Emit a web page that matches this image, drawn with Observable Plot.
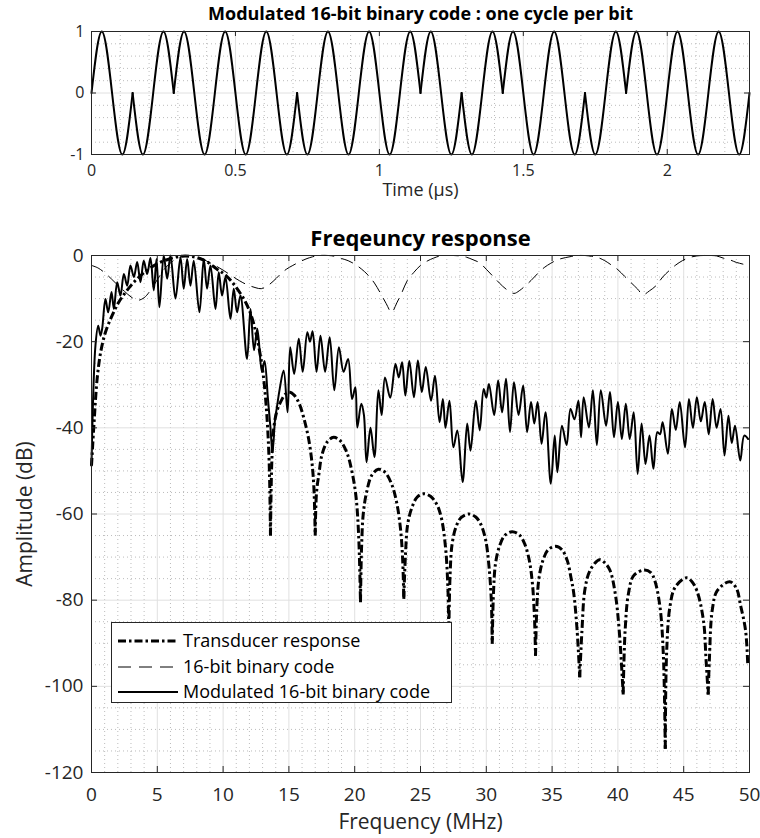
<!DOCTYPE html>
<html><head><meta charset="utf-8">
<script src="https://cdn.jsdelivr.net/npm/d3@7"></script>
<script src="https://cdn.jsdelivr.net/npm/@observablehq/plot@0.6"></script>
<style>
body{margin:0;background:#fff;font-family:"Open Sans",sans-serif;}
#wrap{position:relative;width:760px;height:838px;overflow:hidden;background:#fff}
#wrap > svg{position:absolute;left:0}
.legend{position:absolute;left:111px;top:622px;width:339px;height:79px;border:1px solid #262626;background:#fff;font-family:"Open Sans",sans-serif;font-size:18px;color:#000}
.legend .row{position:absolute;left:0;height:20px}
.legend .row svg{position:absolute;left:5px;top:5px}
.legend .row span{position:absolute;left:71px;top:-4px;white-space:nowrap;line-height:26px}
</style></head>
<body><div id="wrap"></div>
<script>
// ---------- Top chart data ----------
const topTitle = "Modulated 16-bit binary code : one cycle per bit";
const bitPhase = [1,-1,1,1,1,-1,-1,-1,1,-1,1,1,-1,1,1,1];   // (+sin / -sin)
const carrierMHz = 7;                                      // one cycle per bit
const cycleShape = [0, 1, 0, -1];                          // quarter-cycle samples of one cycle
const timeDomain = [0, 16 / 7];
const timeTicks = [0, 0.5, 1, 1.5, 2];
const ampTicks = [-1, 0, 1];

// ---------- Bottom chart data ----------
const bottomTitle = "Freqeuncy response";
const freqTicks = [0,5,10,15,20,25,30,35,40,45,50];
const dbTicks = [-120,-100,-80,-60,-40,-20,0];
const legendLabels = ["Transducer response","16-bit binary code","Modulated 16-bit binary code"];

const transducerLobes = [
 [[0,-48.8],[0.18,-39.5],[0.43,-28.6],[0.7,-22.4],[1.06,-17.8],[1.57,-13.9],[2.08,-10.8],[2.7,-8.1],[3.47,-5.4],[4.2,-3.5],[5.0,-1.9],[5.9,-0.8],[6.9,-0.15],[7.9,-0.4],[8.8,-1.5],[9.5,-3.1],[10.2,-4.6],[10.9,-7],[11.7,-10.8],[12.2,-14.5],[12.6,-19.5],[13.0,-26.5],[13.3,-36],[13.5,-48],[13.6,-65]],
 [[13.6,-65],[13.7,-48],[13.85,-40],[14.1,-36],[14.4,-33.8],[14.7,-32.3],[15.0,-31.7],[15.4,-32.4],[15.8,-34.5],[16.2,-38.5],[16.5,-42.6],[16.75,-48],[16.9,-54],[17.0,-65]],
 [[17.0,-65],[17.1,-55],[17.3,-50.3],[17.5,-46.4],[17.9,-43.3],[18.4,-42.2],[18.9,-43],[19.4,-45.7],[19.8,-50.3],[20.1,-56],[20.3,-65],[20.44,-80.5]],
 [[20.44,-80.5],[20.52,-68],[20.65,-60],[20.9,-55],[21.3,-51],[21.8,-49.6],[22.3,-50.3],[22.8,-53],[23.2,-57.5],[23.5,-64],[23.65,-71],[23.73,-79.7]],
 [[23.73,-79.7],[23.86,-69.3],[24.03,-62.3],[24.36,-58.4],[24.74,-56.1],[25.25,-55.3],[25.76,-55.9],[26.21,-57.6],[26.57,-60.7],[26.9,-67.7],[27.08,-77],[27.15,-88]],
 [[27.15,-88],[27.25,-74],[27.4,-67],[27.7,-63],[28.1,-60.8],[28.67,-60],[29.2,-60.7],[29.6,-62.5],[29.95,-66],[30.2,-72],[30.38,-80],[30.45,-90.1]],
 [[30.45,-90.1],[30.55,-78],[30.7,-71.5],[31.0,-67.5],[31.4,-65],[31.96,-64.1],[32.5,-64.8],[32.9,-66.8],[33.25,-70.5],[33.5,-76],[33.66,-84],[33.74,-92.9]],
 [[33.74,-92.9],[33.85,-81],[34.0,-75],[34.3,-70.8],[34.7,-68.3],[35.26,-67.5],[35.75,-68.3],[36.15,-70.8],[36.45,-75],[36.65,-78.5],[36.9,-87],[37.1,-97.9]],
 [[37.1,-97.9],[37.27,-87],[37.5,-77.4],[37.9,-73],[38.6,-70.6],[39.0,-71.3],[39.4,-73.1],[39.8,-78.5],[40.1,-87],[40.4,-101.9]],
 [[40.4,-101.9],[40.55,-87],[40.8,-78.5],[41.2,-74.3],[42.0,-73],[42.5,-73.6],[42.8,-75.4],[43.2,-81.6],[43.45,-92.4],[43.6,-114.5]],
 [[43.6,-114.5],[43.7,-92.4],[43.95,-81.6],[44.35,-77],[45.2,-74.8],[45.6,-75.6],[46.0,-77.8],[46.5,-84.7],[46.7,-93.9],[46.86,-101.9]],
 [[46.86,-101.9],[46.95,-93.9],[47.17,-82.3],[47.55,-77.8],[48.5,-75.7],[49.0,-77.2],[49.32,-81.2],[49.7,-87],[49.87,-95.2]]
];

const codeSpectrum = [[0,-2.3],[0.5,-2.9],[1,-4],[1.5,-5.4],[2,-6.9],[2.5,-8.3],[3,-9.6],[3.5,-10.4],[4,-9.8],[4.5,-8],[5,-5.6],[5.5,-3.3],[6,-1.7],[6.5,-0.7],[7,-0.1],[7.5,0],[8,-0.3],[8.5,-0.9],[9,-1.7],[9.5,-2.5],[10,-3.4],[10.5,-4.4],[11,-5.4],[11.5,-6.3],[12,-7],[12.5,-7.5],[12.9,-7.7],[13.3,-7.2],[13.8,-6],[14.3,-4.5],[14.8,-3.2],[15.3,-2.3],[15.8,-1.5],[16.3,-0.8],[16.8,-0.3],[17.3,0],[18,0],[18.5,-0.2],[19,-0.7],[19.5,-1.2],[20,-2],[20.5,-3.1],[21,-4.5],[21.5,-6.4],[22,-9],[22.4,-11.2],[22.8,-13.2],[23.2,-11],[23.6,-8.5],[24,-5.8],[24.5,-3.9],[25,-2.3],[25.5,-1.3],[26,-0.6],[26.5,-0.1],[27,0],[27.5,0],[28,-0.1],[28.5,-0.4],[29,-1],[29.5,-1.7],[30,-3.2],[30.5,-4.8],[31,-6.4],[31.5,-7.8],[32.1,-8.8],[32.5,-8.2],[32.9,-7.2],[33.4,-5.8],[33.9,-4.2],[34.4,-2.8],[34.9,-1.8],[35.4,-1],[36,-0.5],[36.5,-0.2],[37,0],[37.5,0],[38,-0.2],[38.5,-0.5],[39,-1.2],[39.5,-2.2],[40,-3.3],[40.5,-4.8],[41,-6.3],[41.5,-7.8],[41.9,-9.1],[42.4,-8.2],[42.9,-7],[43.4,-5],[43.9,-3.5],[44.4,-2.2],[44.9,-1.2],[45.4,-0.5],[46,-0.1],[46.5,0],[47,0],[47.5,-0.1],[48,-0.6],[48.5,-1],[49,-1.6],[49.5,-2],[50,-2.5]];

const modulatedSpectrum = [[0,-48.8],[0.3,-20.9],[0.51,-16.3],[0.68,-18.6],[0.81,-17],[1.06,-10.1],[1.27,-13.2],[1.52,-8.5],[1.7,-12.4],[1.95,-6.2],[2.2,-9.3],[2.46,-4.3],[2.71,-7],[2.96,-2.3],[3.22,-5],[3.47,-1.5],[3.72,-6.2],[3.97,-1.2],[4.23,-4.3],[4.48,-0.6],[4.73,-8.1],[4.94,-0.8],[5.16,-12],[5.49,0],[5.75,-5.4],[6.0,0],[6.38,-10],[6.76,-0.4],[7.01,-7.7],[7.27,-0.8],[7.52,-7],[7.77,-1.2],[8.2,-13.2],[8.53,-0.8],[8.78,-7.7],[9.04,-2.3],[9.42,-12.4],[9.67,-3.9],[9.92,-9.3],[10.18,-5],[10.56,-14.7],[10.81,-7.7],[11.06,-13.2],[11.32,-9.3],[11.82,-24],[12.08,-12.4],
[12.35,-22],[12.6,-17],[12.95,-27],[13.15,-24.5],[13.4,-33],[13.6,-40],[13.75,-45.7],[13.95,-38],[14.1,-35],[14.3,-31],[14.6,-26.7],[14.9,-36.4],[15.1,-21.3],[15.4,-27.5],[15.75,-19.3],[16.05,-27],[16.4,-17.8],[16.6,-20],[16.8,-17.6],[17.1,-27],[17.4,-18.6],[17.75,-27],[18.1,-19],[18.45,-31.3],[18.8,-21.3],[19.15,-27],[19.5,-24],[19.8,-33.3],[20.05,-30.6],[20.2,-39.9],[20.5,-34.4],[20.7,-37],[20.9,-48],[21.2,-40],[21.5,-46.8],[21.8,-31.3],[22.05,-37],[22.3,-28.3],[22.7,-33],[23.1,-25.2],[23.35,-28.3],[23.6,-24.8],[23.85,-32.5],[24.15,-24.5],[24.5,-32.9],[24.8,-24.4],
[25.1,-31.7],[25.4,-25.9],[25.8,-33.7],[26.1,-27.9],[26.45,-38.7],[26.7,-33.3],[26.9,-40],[27.2,-33.7],[27.5,-44.5],[27.8,-40.6],[28.2,-52.6],[28.55,-39],[28.8,-45.3],[29.2,-33.7],[29.5,-40.6],[29.8,-31],[30.0,-33],[30.2,-29.8],[30.6,-37],[30.9,-29],[31.2,-36.4],[31.5,-28.6],[31.8,-41],[32.1,-29.4],[32.45,-37],[32.8,-30.2],[33.1,-41],[33.4,-34],[33.65,-39],[33.9,-34],[34.2,-43.7],[34.5,-36.4],[34.9,-53],[35.2,-41.8],[35.4,-50.3],[35.75,-39.5],[36.1,-44],[36.4,-35.6],[36.7,-38],[37.0,-33.7],[37.2,-42.2],[37.4,-32.9],
[37.8,-39.9],[38.1,-31.3],[38.4,-44],[38.7,-31.3],[39.1,-39.5],[39.4,-31.7],[39.7,-42.2],[40.0,-34],[40.3,-42.6],[40.6,-34.4],[40.9,-42.6],[41.2,-36.4],[41.5,-50.7],[41.8,-39],[42.1,-48.4],[42.4,-41.8],[42.7,-49.5],[43.0,-41],[43.2,-41.5],[43.4,-38.7],[43.8,-46],[44.1,-35.6],[44.4,-40.5],[44.7,-34],[45.1,-44.5],[45.4,-33.3],[45.7,-40],[46.0,-32.9],[46.3,-38.5],[46.6,-34],[46.9,-41.5],[47.2,-33.3],[47.5,-40],[47.8,-35.6],[48.1,-46.4],[48.4,-37.2],[48.65,-43.5],[48.9,-39.5],[49.3,-47.6],[49.6,-41.8],[49.9,-42.6]];

// ---------- Styles ----------
const TEXT = "#262626", GRID = "#e0e0e0", MINOR = "#bcbcbc";
const FONT = "Open Sans";

// ---------- Build top waveform from bits ----------
const wave = [];
let seg = 0;
bitPhase.forEach((s, k) => {
  if (k > 0 && s !== bitPhase[k - 1]) seg++;
  cycleShape.forEach((v, j) => wave.push({t: (k + j / 4) / carrierMHz, v: s * v, seg}));
  const next = bitPhase[k + 1];
  if (next === undefined || next !== s) wave.push({t: (k + 1) / carrierMHz, v: 0, seg});
});

const timeMinor = d3.range(0, 2.3, 0.1).filter(d => !timeTicks.some(t => Math.abs(t - d) < 1e-6));
const ampMinor = d3.range(-1, 1.01, 0.2).filter(d => !ampTicks.some(t => Math.abs(t - d) < 1e-6));
const freqMinor = d3.range(0, 51, 1).filter(d => d % 5 !== 0);
const dbMinor = d3.range(-120, 1, 5).filter(d => d % 20 !== 0);

const fmt = d => String(d);

function frameTicks(xt, yt, pw, ph, len) {
  return [
    Plot.tickX(xt, {x: d => d, stroke: TEXT, insetTop: ph - len}),
    Plot.tickX(xt, {x: d => d, stroke: TEXT, insetBottom: ph - len}),
    Plot.tickY(yt, {y: d => d, stroke: TEXT, insetRight: pw - len}),
    Plot.tickY(yt, {y: d => d, stroke: TEXT, insetLeft: pw - len})
  ];
}
const label = (txt, opts) => Plot.text([txt], {text: d => d, lineAnchor: "middle", textAnchor: "middle", fill: TEXT, ...opts});

// ---------- Top plot ----------
const tH = 205, tM = {l: 91, r: 11, t: 31, b: 51};
const topPlot = Plot.plot({
  width: 760, height: tH,
  marginLeft: tM.l, marginRight: tM.r, marginTop: tM.t, marginBottom: tM.b,
  style: {fontFamily: FONT, color: TEXT, background: "transparent", overflow: "visible"},
  x: {domain: timeDomain},
  y: {domain: [-1, 1]},
  marks: [
    Plot.gridX(timeMinor, {stroke: MINOR, strokeOpacity: 1, strokeDasharray: "1,3"}),
    Plot.gridY(ampMinor, {stroke: MINOR, strokeOpacity: 1, strokeDasharray: "1,3"}),
    Plot.gridX(timeTicks, {stroke: GRID, strokeOpacity: 1}),
    Plot.gridY(ampTicks, {stroke: GRID, strokeOpacity: 1}),
    Plot.line(wave, {x: "t", y: "v", z: "seg", curve: "natural", stroke: "#000", strokeWidth: 2}),
    ...frameTicks(timeTicks, ampTicks, 760 - tM.l - tM.r, tH - tM.t - tM.b, 5),
    Plot.frame({stroke: TEXT}),
    Plot.axisX(timeTicks, {tickSize: 0, tickPadding: 10, fontSize: 16, tickFormat: fmt, label: null}),
    Plot.axisY(ampTicks, {tickSize: 0, tickPadding: 7, fontSize: 16, tickFormat: fmt, label: null}),
    label("Time (µs)", {frameAnchor: "bottom", dy: 36, fontSize: 18}),
    label(topTitle, {frameAnchor: "top", dy: -17, fontSize: 18, fontWeight: "bold", fill: "#000"})
  ]
});
topPlot.style.top = "0px";

// ---------- Bottom plot ----------
const bH = 633, bM = {l: 91, r: 11, t: 50, b: 66};
const lobeRows = transducerLobes.flatMap((lobe, i) => lobe.map(([f, db]) => ({f, db, lobe: i})));
const codeRows = codeSpectrum.map(([f, db]) => ({f, db}));
const modRows = modulatedSpectrum.map(([f, db]) => ({f, db}));

const bottomPlot = Plot.plot({
  width: 760, height: bH,
  marginLeft: bM.l, marginRight: bM.r, marginTop: bM.t, marginBottom: bM.b,
  style: {fontFamily: FONT, color: TEXT, background: "transparent", overflow: "visible"},
  x: {domain: [0, 50]},
  y: {domain: [-120, 0]},
  marks: [
    Plot.gridX(freqMinor, {stroke: MINOR, strokeOpacity: 1, strokeDasharray: "1,3"}),
    Plot.gridY(dbMinor, {stroke: MINOR, strokeOpacity: 1, strokeDasharray: "1,3"}),
    Plot.gridX(freqTicks, {stroke: GRID, strokeOpacity: 1}),
    Plot.gridY(dbTicks, {stroke: GRID, strokeOpacity: 1}),
    Plot.line(codeRows, {x: "f", y: "db", curve: "catmull-rom", stroke: "#000", strokeWidth: 1, strokeDasharray: "13,7", strokeLinecap: "butt"}),
    Plot.line(modRows, {x: "f", y: "db", curve: "catmull-rom", stroke: "#000", strokeWidth: 2}),
    Plot.line(lobeRows, {x: "f", y: "db", z: "lobe", curve: "catmull-rom", stroke: "#000", strokeWidth: 3, strokeDasharray: "8,3,2.5,3", strokeLinecap: "butt"}),
    ...frameTicks(freqTicks, dbTicks, 760 - bM.l - bM.r, bH - bM.t - bM.b, 6),
    Plot.frame({stroke: TEXT}),
    Plot.axisX(freqTicks, {tickSize: 0, tickPadding: 15, fontSize: 19, tickFormat: fmt, label: null}),
    Plot.axisY(dbTicks, {tickSize: 0, tickPadding: 8, fontSize: 19, tickFormat: fmt, label: null}),
    label("Frequency (MHz)", {frameAnchor: "bottom", dy: 50, fontSize: 21}),
    label("Amplitude (dB)", {frameAnchor: "left", dx: -66, rotate: -90, fontSize: 21}),
    label(bottomTitle, {frameAnchor: "top", dy: -17, fontSize: 22, fontWeight: "bold", fill: "#000"})
  ]
});
bottomPlot.style.top = "205px";

const wrap = document.getElementById("wrap");
wrap.appendChild(topPlot);
wrap.appendChild(bottomPlot);

// ---------- Legend ----------
const legendStyles = [
  {w: 3, dash: "8,3,2.5,3"},
  {w: 1, dash: "13,8"},
  {w: 2, dash: null}
];
const legend = document.createElement("div");
legend.className = "legend";
const rowTops = [8, 34, 59];
legendLabels.forEach((lab, i) => {
  const row = document.createElement("div");
  row.className = "row";
  row.style.top = rowTops[i] + "px";
  const ns = "http://www.w3.org/2000/svg";
  const s = document.createElementNS(ns, "svg");
  s.setAttribute("width", "62"); s.setAttribute("height", "10");
  const ln = document.createElementNS(ns, "line");
  ln.setAttribute("x1", "1"); ln.setAttribute("x2", "61");
  ln.setAttribute("y1", "5"); ln.setAttribute("y2", "5");
  ln.setAttribute("stroke", "#000");
  ln.setAttribute("stroke-width", legendStyles[i].w);
  if (legendStyles[i].dash) ln.setAttribute("stroke-dasharray", legendStyles[i].dash);
  s.appendChild(ln);
  const sp = document.createElement("span");
  sp.textContent = lab;
  row.appendChild(s); row.appendChild(sp);
  legend.appendChild(row);
});
wrap.appendChild(legend);
</script></body></html>
